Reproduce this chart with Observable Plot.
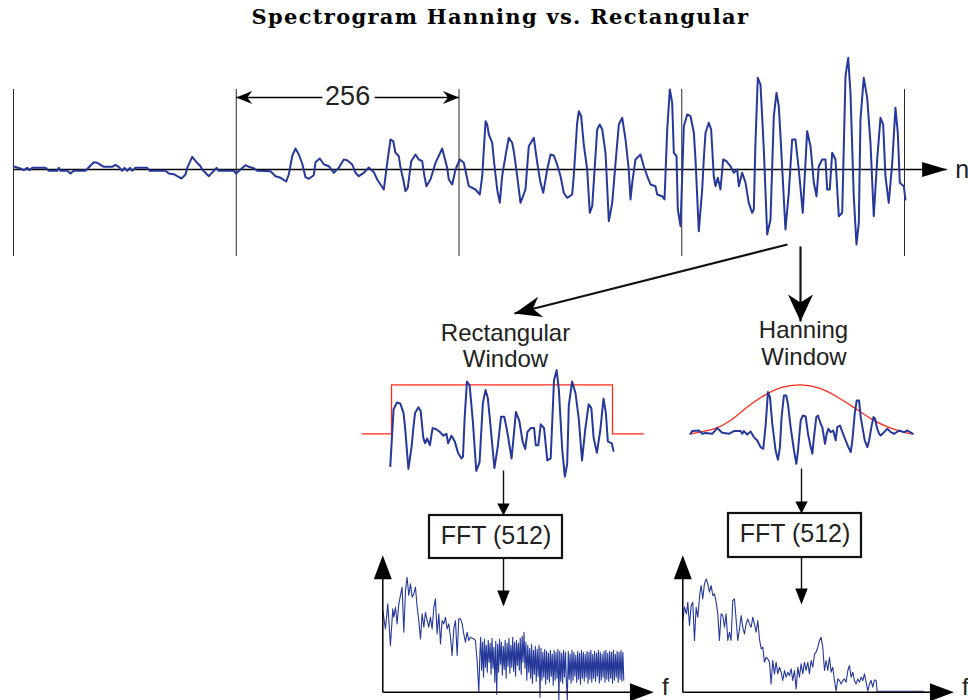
<!DOCTYPE html>
<html>
<head>
<meta charset="utf-8">
<script src="https://cdn.jsdelivr.net/npm/d3@7"></script>
<script src="https://cdn.jsdelivr.net/npm/@observablehq/plot@0.6"></script>
<style>
  html, body { margin: 0; padding: 0; background: white; }
  #chart { position: relative; width: 968px; height: 700px; overflow: hidden; }
</style>
</head>
<body>
<div id="chart"></div>
<script>
// ---------------- data ----------------
const TITLE = "Spectrogram Hanning vs. Rectangular";
const frameMarks = [0, 256, 512, 768, 1024];      // frame boundaries (samples)
const frameLength = 256;
const fftLabel = "FFT (512)";
const rectLabels = ["Rectangular", "Window"];
const hannLabels = ["Hanning", "Window"];
const axisNames = {time: "n", freq: "f"};

// speech-like signal: [sample n, amplitude]
const signal = [[0.3,3],[8,1],[11.8,-0.7],[15.7,1.7],[18.7,-0.7],[21.5,1.7],[36.8,1.7],[40.6,-1.3],[50.2,-1.3],[52.1,1.7],[54,-1.3],[61.7,-1.3],[65.5,-4],[69.3,-1.3],[82.7,-1.3],[92.3,7.3],[96.2,6.7],[103.8,2.7],[113.4,2.7],[117.2,4.7],[121,2.7],[124.9,-1.3],[127.6,1.7],[130.7,-1.3],[133.7,1.7],[136.4,-1.3],[140.2,1.7],[153.7,1.7],[156.6,-1.3],[174.7,-1.3],[178.5,-4],[184.2,-4.7],[188.1,-6.7],[193.1,-9],[197.7,-5],[199.6,1.7],[205.4,12.7],[207.2,10.7],[211.1,6.7],[214.9,3.3],[216.9,0],[224.5,-6.7],[233.3,1.7],[235.9,-1.3],[253.2,-1.3],[255.9,-4],[260.9,0],[266.6,4.3],[270.4,2.7],[276.2,1.3],[280.1,-1.3],[295.4,-1.7],[301.1,-6.7],[306.9,-8.3],[313.4,-12],[316.4,-5],[320.3,13.3],[324.1,21],[327.9,15],[331.8,6],[335.6,-7.7],[339.4,-9.3],[345.1,-5.7],[347.1,7.3],[352,11],[356.6,5.3],[362.4,3.3],[368.1,-3.3],[373.9,1.7],[379.6,10],[383.5,9.3],[389.3,5],[393.1,-3.3],[396.8,-6.7],[402.6,-3.3],[408.3,2],[414.1,-2.7],[418,-10],[425.6,-20],[429.5,6.7],[433.3,30],[436.4,28.3],[439,16.7],[442.8,13.3],[444.8,1.7],[447.9,-10],[450.5,-21.7],[453.1,-18.3],[457.1,8.3],[462,15],[465.8,10],[469.7,8.3],[472.3,-6.7],[474.6,-16.7],[479.2,-10],[485,6.7],[492.7,21],[496.5,8.3],[498.4,1.7],[500.3,-10],[504.2,-15],[508,0],[512.9,10],[517.5,6.7],[523.3,-16.7],[531,-20],[535.9,-25],[538.7,-6.7],[542.5,48.3],[544.4,45],[546.3,35],[550.2,26.7],[552,10],[555.9,-20],[558.9,-33.3],[561.6,-6.7],[565.4,13.3],[569.2,31.7],[573.1,26.7],[575,18.3],[578.9,-6.7],[582.7,-33.3],[588.4,-20],[592.2,23.3],[598,31.7],[601.9,6.7],[605.7,-13.3],[608.8,-23.3],[613.4,0],[617.2,15],[620.9,14],[624.8,5],[628.7,-6.7],[632.4,-23.3],[636.3,-28.3],[642.1,-25],[643.9,-6.7],[647.8,46.7],[649.7,58.3],[652.4,53.3],[655.4,25],[659.3,0],[662.3,-43.3],[665.1,-36.7],[670.8,40],[673.8,45],[676.6,40],[680.4,16.7],[684.2,-51.7],[688.1,-33.3],[691.9,6.7],[695.7,45],[699.6,51.7],[703.4,30],[707.1,0],[709.1,-30],[711.1,-13.3],[714.8,10],[720.6,15],[724.4,3],[728.3,-6.7],[732.1,-15],[737.8,-16.7],[739.8,-25],[745.5,-26.7],[748.2,-30],[751.3,40],[754.3,80],[757,66.7],[758.9,16.7],[762,13.3],[763.5,-40],[766.6,-56.7],[770.4,43.3],[774.3,55],[778.1,53.3],[781.9,36.7],[783.8,10],[787.6,-61.7],[791.5,-20],[793.3,10],[795.3,36.7],[799.1,46.7],[801.8,40],[804.8,-6.7],[806.8,-16.7],[809.4,-8.3],[812.5,-20],[815.6,10],[819.4,8.3],[820.9,6.7],[824,3.3],[827.8,-3.3],[831.7,0],[833.6,-16.7],[837.5,-3.3],[841.3,-13.3],[845,-33.3],[849,-43.3],[850.8,-40],[852.7,26.7],[855.4,91.7],[858.5,85],[860.4,53.3],[862.3,20],[866.2,-65],[870,-50],[873.8,53.3],[876.9,76.7],[879.5,63.3],[881.5,33.3],[887.2,-60],[891,-23.3],[894.9,30],[898.7,30],[902.5,0],[907.1,-43.3],[910.2,6.7],[912.1,38.3],[916,23.3],[919.8,-13.3],[922.9,-26.7],[925.5,3.3],[929.4,10],[933.2,10],[935.1,-20],[938.1,-20],[940.9,16.7],[944.7,10],[948.5,-46.7],[952.4,-43.3],[956.2,93.3],[959.3,111.7],[961.9,76.7],[965.7,-26.7],[968.8,-75],[971.5,-53.3],[973.4,50],[977.2,91.7],[981.1,71.7],[984.9,26.7],[988.7,-46.7],[992.6,10],[996.4,51.7],[999.5,45],[1002.1,-6.7],[1005.9,-33.3],[1009.9,6.7],[1013.6,61.7],[1016.3,36.7],[1018.6,-13.3],[1023.2,-16.7],[1025.1,-30]];

// rectangular window: [n, w]
const rectWindow = [[734,0],[768,0],[768,1],[1024,1],[1024,0],[1060,0]];
// Hanning window as drawn: [n, w]
const hannWindow = [[768,0],[795,0.1],[814,0.27],[833,0.54],[852.5,0.78],[872,0.94],[895,1],[918,0.92],[937,0.75],[956,0.54],[975.6,0.31],[995,0.14],[1014,0.03],[1024,0]];
// Hanning-windowed frame: [n, amplitude]
const hannSignal = [[768,0],[769.9,2.7],[777.6,3.3],[781.5,0],[785.3,0.7],[793,0],[798.8,5.7],[804.5,1],[812.2,0],[818,2.7],[825.7,2.7],[827.6,0],[829.5,2.7],[833.3,-0.7],[837.2,2.3],[841,-3.3],[844.9,-6.7],[848.7,-13.3],[851.8,-15],[854.5,8.3],[857.2,41.7],[859.5,36.7],[862.2,10],[866,-16.7],[868.7,-26],[871,-13.3],[872.9,16.7],[875.6,38.3],[878.3,38.3],[880.2,30],[883.3,6.7],[887.2,-16.7],[889.9,-30],[891.8,-16.7],[894.9,13.3],[897.5,18.3],[900.6,17.3],[903.3,0],[906.4,-13.3],[908.3,-20],[910.2,-3.3],[912.9,16.7],[914.8,18.3],[917.9,10],[919.8,6.7],[922.9,-10],[924.8,0],[926.8,5],[929.4,1.7],[932.5,3.3],[935.2,-6.7],[937.1,6.7],[940.2,8.3],[942.9,1.7],[946.7,-6.7],[949.8,-13.3],[952.5,-18.3],[954.4,-6.7],[957.1,20],[959.4,33.3],[962.1,33.3],[964,16.7],[966,6.7],[968.7,-6.7],[971.7,-13.3],[973.7,-6.7],[976.3,6.7],[978.7,16.7],[980.6,15],[982.5,6.7],[985.2,0],[987.1,-1.7],[991,1.7],[994.8,5],[998.6,1.7],[1002.5,0],[1008.3,3.3],[1014,1.7],[1017.9,3.3],[1024,0]];

// rectangular-window spectrum: [bin, level]; dense tail from bin 104 onwards
const rectSpecHead = [[0,81.7],[2.8,63.3],[5.3,88.3],[8.1,46.7],[10.6,83.3],[11.7,75],[13.5,85],[15.2,68.3],[17,88.3],[20.5,105],[22.3,60],[24.1,101.7],[25.8,115],[27.6,96.7],[29.4,108.3],[31.2,95],[32.9,98.3],[34.7,105],[36.5,85],[38.2,71.7],[40,53.3],[41.8,78.3],[43.6,65],[45.3,80],[47.1,71.7],[48.9,65],[50.6,75],[52.4,63.3],[54.2,85],[55.9,93.3],[57.7,58.3],[59.5,78.3],[61.3,48.3],[63,71.7],[64.8,68.3],[66.6,75],[68.3,63.3],[70.1,68.3],[71.9,55],[73.6,36.7],[75.4,63.3],[77.2,71.7],[79,36.7],[80.7,73.3],[82.5,73.3],[84.3,68.3],[86,58.3],[87.8,50],[89.6,60],[91.3,51.7],[93.1,55],[96.7,53.3],[98.4,51.7],[100.2,31.7],[102,0],[103.2,40]];
const rectSpecTailStart = 104;
const rectSpecTail = [55,22,50,15,53,25,47,20,52,30,49,18,54,24,45,10,51,-2,48,
  20,53,28,50,17,46,23,52,14,49,26,54,19,47,25,55,21,50,
  16,52,27,49,22,54,18,56,30,60,24,50,12,47,20,44,14,48,9,42,18,46,11,43,16,47,
  -5,44,12,40,15,43,8,41,13,39,10,42,16,38,7,42,12,40,14,43,-8,41,11,39,9,42,15,40,10,
  -8,41,13,38,9,42,12,40,16,37,10,41,13,39,8,42,14,40,11,38,15,41,9,40,13,42,10,38,14,41,
  11,39,16,42,9,40,12,38,15,41,10,42,13,39,11,41,14,40,9,42,12,38,15,41,10,40,13,42,11,40,12];
// Hanning-window spectrum: [bin, level]
const hannSpec = [[0,71.7],[1.8,85],[3.9,78.3],[5.3,90],[7.1,66.7],[8.9,86.7],[10.6,90],[12.4,51.7],[14.2,85],[15.9,75],[18.1,98.3],[19.5,106.7],[21.2,93.3],[23,108.3],[24.8,113.3],[26.6,108.3],[28.3,100],[30.1,106.7],[31.9,96.7],[33.6,98.3],[35.4,90],[37.2,78.3],[38.9,51.7],[40.7,78.3],[42.5,76.7],[44.3,65],[46,78.3],[47.8,51.7],[49.6,60],[51.3,51.7],[53.1,91.7],[54.9,93.3],[56.7,71.7],[58.4,51.7],[60.2,63.3],[62,76.7],[63.7,65],[65.5,58.3],[67.3,68.3],[69,73.3],[70.8,68.3],[72.6,65],[74.4,75],[76.1,68.3],[77.9,60],[79.7,71.7],[81.4,53.3],[83.2,43.3],[85,45],[86.7,30],[88.5,35],[90.3,33.3],[92.1,30],[93.8,8.3],[95.6,31.7],[97.4,18.3],[99.1,30],[100.9,18.3],[102.7,25],[104.5,20],[106.2,11.7],[108,21.7],[109.8,15],[111.5,20],[113.3,16.7],[115.1,23.3],[116.8,11.7],[118.6,21.7],[120.4,3.3],[122.2,25],[123.9,15],[125.7,28.3],[127.5,18.3],[129.2,30],[131,21.7],[132.8,30],[134.5,18.3],[136.3,31.7],[138.1,25],[139.9,38.3],[141.6,40],[143.4,45],[145.2,51.7],[146.9,55],[148.7,45],[150.5,21.7],[152.2,31.7],[154,21.7],[155.8,35],[157.6,20],[159.3,25],[161.1,11.7],[162.9,1],[164.6,13.3],[166.4,11.7],[168.2,8.3],[170,11.7],[171.7,13.3],[173.5,10],[175.3,21.7],[177,26.7],[178.8,15],[180.6,20],[182.3,11.7],[184.1,8.3],[185.9,13.3],[187.7,10],[189.4,15],[191.2,11.7],[193,18.3],[194.7,10],[196.5,1],[198.3,8.3],[200,11.7],[201.8,5],[203.6,12.3],[205.4,11.7],[206.4,1],[256,1]];

// ---------------- layout (pixels / data units of each panel) ----------------
const W = 968, H = 700;
const BLUE = "#26399b", RED = "#ff2b1c";
const SANS = "Liberation Sans, Arial, Helvetica, sans-serif";
const nAxisEnd = 1073;              // time axis arrow tip (samples)
const dimLevel = 72, dimGap = [355, 415];
const specAxisEnd = {k: 288, h: 137};

function head(angleDeg, len, halfW, notch = 0) {
  const a = angleDeg * Math.PI / 180, c = Math.cos(a), s = Math.sin(a);
  const pts = [[0, 0], [-len, -halfW], [-len + notch, 0], [-len, halfW]]
    .map(([x, y]) => [x * c - y * s, x * s + y * c]);
  return {draw(ctx) {
    ctx.moveTo(pts[0][0], pts[0][1]);
    for (let i = 1; i < pts.length; ++i) ctx.lineTo(pts[i][0], pts[i][1]);
    ctx.closePath();
  }};
}
function headMark(x, y, symbol) {
  return Plot.dot([0], {x: () => x, y: () => y, symbol, fill: "black", stroke: "none"});
}

function layer({x, y, marks}) {
  return Plot.plot({
    width: W, height: H, margin: 0,
    x: {...x, axis: null}, y: {...y, axis: null},
    style: "background: transparent; position: absolute; left: 0; top: 0; overflow: visible;",
    marks
  });
}

const pt = (d) => d[0], pv = (d) => d[1];

// top signal panel
const topLayer = layer({
  x: {domain: [0, 1024], range: [13, 904]},
  y: {domain: [-100, 100], range: [269, 69]},
  marks: [
    Plot.ruleX(frameMarks, {y1: -87, y2: 80, stroke: "#2a2a2a", strokeWidth: 1}),
    Plot.ruleY([0], {x1: 0, x2: nAxisEnd, stroke: "black", strokeWidth: 1.3}),
    headMark(nAxisEnd, 0, head(0, 25, 7.5)),
    Plot.text([axisNames.time], {x: nAxisEnd, y: 0, dx: 8, textAnchor: "start", lineAnchor: "middle", fontSize: 25, fontFamily: SANS, fill: "#222"}),
    Plot.link([[frameMarks[1], dimGap[0]], [dimGap[1], frameMarks[2]]], {x1: pt, x2: pv, y1: dimLevel, y2: dimLevel, stroke: "black", strokeWidth: 1.3}),
    headMark(frameMarks[1], dimLevel, head(180, 16, 6.5, 5)),
    headMark(frameMarks[2], dimLevel, head(0, 16, 6.5, 5)),
    Plot.text([String(frameLength)], {x: (frameMarks[1] + frameMarks[2]) / 2, y: dimLevel + 1, lineAnchor: "middle", fontSize: 27, fontFamily: SANS, fill: "#222"}),
    Plot.line(signal, {x: pt, y: pv, stroke: BLUE, strokeWidth: 2})
  ]
});

const frame4 = signal.filter(d => d[0] >= 766 && d[0] <= 1026);

const rectWinLayer = layer({
  x: {domain: [768, 1024], range: [391, 612]},
  y: {domain: [0, 1], range: [433.3, 384.3]},
  marks: [Plot.line(rectWindow, {x: pt, y: pv, stroke: RED, strokeWidth: 1.3})]
});
const rectSigLayer = layer({
  x: {domain: [768, 1024], range: [391, 612]},
  y: {domain: [-100, 100], range: [490.3, 376.3]},
  marks: [Plot.line(frame4, {x: pt, y: pv, stroke: BLUE, strokeWidth: 2})]
});
const hannWinLayer = layer({
  x: {domain: [768, 1024], range: [690, 912.3]},
  y: {domain: [0, 1], range: [433.3, 384.3]},
  marks: [Plot.line(hannWindow, {x: pt, y: pv, stroke: RED, strokeWidth: 1.3, curve: "natural"})]
});
const hannSigLayer = layer({
  x: {domain: [768, 1024], range: [690, 912.3]},
  y: {domain: [-100, 100], range: [533.3, 333.3]},
  marks: [Plot.line(hannSignal, {x: pt, y: pv, stroke: BLUE, strokeWidth: 2})]
});

function specLayer(x0, data) {
  return layer({
    x: {domain: [0, 256], range: [x0, x0 + 241]},
    y: {domain: [0, 140], range: [691.7, 551.7]},
    marks: [
      Plot.line(data, {x: pt, y: pv, stroke: BLUE, strokeWidth: 1.1}),
      Plot.link([[0, 0]], {x1: 0, y1: 0, x2: 0, y2: specAxisEnd.h - 10, stroke: "black", strokeWidth: 1.5}),
      Plot.link([[0, 0]], {x1: 0, y1: 0, x2: specAxisEnd.k - 10, y2: 0, stroke: "black", strokeWidth: 1.5}),
      headMark(0, specAxisEnd.h, head(-90, 24, 9)),
      headMark(specAxisEnd.k, 0, head(0, 24, 9)),
      Plot.text([axisNames.freq], {x: specAxisEnd.k, y: 0, dx: 8, dy: -5, textAnchor: "start", lineAnchor: "middle", fontSize: 24, fontFamily: SANS, fill: "#222"})
    ]
  });
}
const rectSpec = rectSpecHead.concat(rectSpecTail.map((h, i) => [rectSpecTailStart + i, h]));
const rectSpecLayer = specLayer(382.3, rectSpec);
const hannSpecLayer = specLayer(682.3, hannSpec);

// annotation panel (pixel layout)
const bigArrows = [
  {x1: 787, y1: 244, x2: 514, y2: 313},
  {x1: 800, y1: 246, x2: 800, y2: 321}
];
const smallArrows = [
  {x: 503, y1: 470, y2: 515, len: 12},
  {x: 503, y1: 558, y2: 606, len: 16},
  {x: 801, y1: 468, y2: 513, len: 12},
  {x: 801, y1: 557, y2: 604, len: 16}
];
const fftBoxes = [
  {x1: 429, x2: 562, y1: 515, y2: 558, cx: 495.5, base: 543},
  {x1: 728, x2: 861, y1: 513, y2: 557, cx: 794.5, base: 541.5}
];
const labels = [
  {text: rectLabels[0], x: 505, y: 340.5},
  {text: rectLabels[1], x: 505, y: 366.5},
  {text: hannLabels[0], x: 803, y: 337.5},
  {text: hannLabels[1], x: 803.5, y: 364}
];

const annotMarks = [
  Plot.text([TITLE], {x: 500, y: 23, lineAnchor: "bottom", fontFamily: "DejaVu Serif, serif", fontWeight: "bold", fontSize: 21, fill: "black"}),
  Plot.link(bigArrows, {x1: "x1", y1: "y1", x2: "x2", y2: "y2", stroke: "#111", strokeWidth: 2.2}),
  ...bigArrows.map(a => headMark(a.x2, a.y2, head(Math.atan2(a.y2 - a.y1, a.x2 - a.x1) * 180 / Math.PI, 27, a.x1 === a.x2 ? 12.5 : 10.5, 8))),
  Plot.link(smallArrows, {x1: "x", x2: "x", y1: "y1", y2: d => d.y2 - 4, stroke: "#111", strokeWidth: 1.4}),
  ...smallArrows.map(a => headMark(a.x, a.y2, head(90, a.len, 6.2))),
  Plot.rect(fftBoxes, {x1: "x1", x2: "x2", y1: "y1", y2: "y2", fill: "white", stroke: "#111", strokeWidth: 2.2}),
  Plot.text(fftBoxes, {x: "cx", y: "base", text: () => fftLabel, lineAnchor: "bottom", fontSize: 25, fontFamily: SANS, fill: "#222"}),
  Plot.text(labels, {x: "x", y: "y", text: "text", lineAnchor: "bottom", fontSize: 24, fontFamily: SANS, fill: "#222"})
];
const annotLayer = layer({
  x: {domain: [0, W], range: [0, W]},
  y: {domain: [0, H], range: [0, H]},
  marks: annotMarks
});
d3.select(annotLayer).selectAll("text").filter(function () { return this.textContent === TITLE; })
  .attr("letter-spacing", "1.3px");

const chart = document.getElementById("chart");
[topLayer, rectWinLayer, rectSigLayer, hannWinLayer, hannSigLayer, rectSpecLayer, hannSpecLayer, annotLayer]
  .forEach(svg => chart.appendChild(svg));
</script>
</body>
</html>
